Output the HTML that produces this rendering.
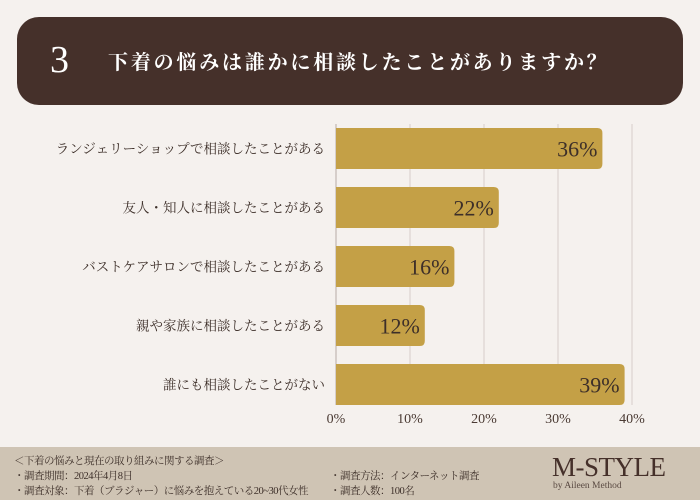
<!DOCTYPE html>
<html><head><meta charset="utf-8"><style>
body{margin:0;width:700px;height:500px;background:#f5f1ee;position:relative;overflow:hidden;font-family:"Liberation Serif","Noto Serif CJK SC",serif;color:#3d2f29}
#hdr{position:absolute;left:17px;top:17px;width:666px;height:88px;background:#45302a;border-radius:22px}
#num{position:absolute;left:50px;top:38px;font-size:38px;color:#fff}
#ttl{position:absolute;left:108px;top:46px;font-size:20px;color:#fff;letter-spacing:2.8px;font-weight:bold}
#ftr{position:absolute;left:0;top:447px;width:700px;height:53px;background:#cfc4b4;font-size:10.5px;letter-spacing:-0.5px;color:#3d2f29}
#ftr div{position:absolute;white-space:nowrap}
</style></head><body>
<div id="hdr"></div>
<div id="num">3</div>
<div id="ttl">下着の悩みは誰かに相談したことがありますか？</div>
<svg id="chart" width="700" height="447" style="position:absolute;left:0;top:0"></svg>
<div id="ftr">
<div style="left:14px;top:6px">＜下着の悩みと現在の取り組みに関する調査＞</div>
<div style="left:14px;top:21px">・調査期間：2024年4月8日</div>
<div style="left:14px;top:36px">・調査対象：下着（ブラジャー）に悩みを抱えている20~30代女性</div>
<div style="left:330px;top:21px">・調査方法：インターネット調査</div>
<div style="left:330px;top:36px">・調査人数：100名</div>
<div style="left:552px;top:5px;font-size:27px;letter-spacing:-0.5px;color:#45302a">M-STYLE</div>
<div style="left:553px;top:34px;font-size:9.5px;letter-spacing:0;color:#5a4a42">by Aileen Method</div>
</div>
<script>
const categories=["ランジェリーショップで相談したことがある","友人・知人に相談したことがある","バストケアサロンで相談したことがある","親や家族に相談したことがある","誰にも相談したことがない"];
const values=[36,22,16,12,39];
const ticks=[0,10,20,30,40];
const tickLabels=["0%","10%","20%","30%","40%"];
const NS="http://www.w3.org/2000/svg",svg=document.getElementById('chart');
const x0=336,x1=632,xMax=40,top0=128,pitch=59,bh=41;
const xs=v=>x0+(x1-x0)*v/xMax;
function mk(t,a){const e=document.createElementNS(NS,t);for(const k in a)e.setAttribute(k,a[k]);svg.appendChild(e);return e;}
ticks.forEach((t,i)=>{
 const g=mk('line',{x1:xs(t),x2:xs(t),y1:top0-4,y2:top0+pitch*4+bh,stroke:i==0?'#b8aca6':'#d6cdc9','stroke-width':1});
 
 
 const l=mk('text',{x:xs(t),y:423,'text-anchor':'middle','font-size':14,fill:'#4a3a33'});
 l.textContent=tickLabels[i];
 
 
});
categories.forEach((c,i)=>{
 const y=top0+pitch*i;
 const r=mk('path',{d:`M${x0},${y}H${xs(values[i])-5}Q${xs(values[i])},${y} ${xs(values[i])},${y+5}V${y+bh-5}Q${xs(values[i])},${y+bh} ${xs(values[i])-5},${y+bh}H${x0}Z`,fill:'#c4a046'});
 
 
 const v=mk('text',{x:xs(values[i])-5,y:y+bh/2+8,'text-anchor':'end','font-size':22,fill:'#3d2f29'});
 v.textContent=values[i]+'%';
 
 
 const t=mk('text',{x:325,y:y+bh/2+5,'text-anchor':'end','font-size':13.5,fill:'#3d2f29'});
 t.textContent=c;
 
 
});
</script>
</body></html>
